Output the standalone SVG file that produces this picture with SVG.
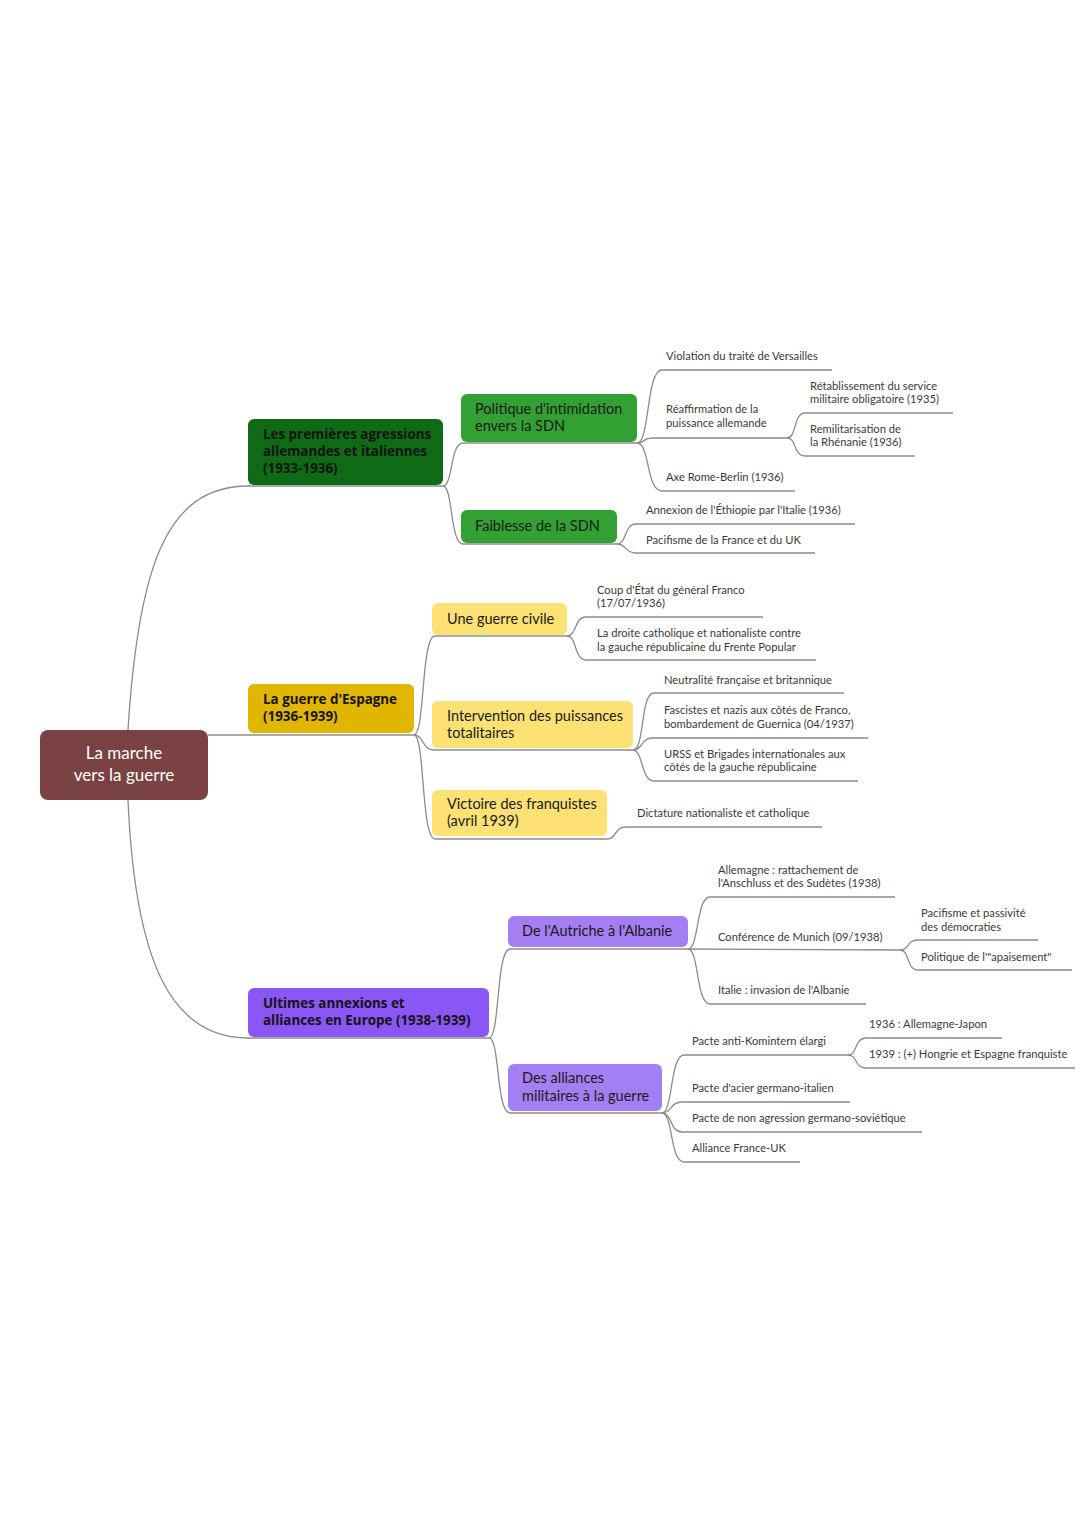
<svg xmlns="http://www.w3.org/2000/svg" width="1080" height="1528" viewBox="0 0 1080 1528">
<style>
.c{fill:none;stroke:#8c8c8c;stroke-width:1.3}
.t{font-family:Lato,"Open Sans","Liberation Sans",sans-serif;font-size:11.2px;fill:#3a3a3a}
.n2{font-family:Lato,"Open Sans","Liberation Sans",sans-serif;font-size:14.5px;fill:#1a1a1a}
.n1{font-family:"Open Sans",Lato,"Liberation Sans",sans-serif;font-size:13.4px;font-weight:700;fill:#141414}
.root{font-family:Lato,"Open Sans","Liberation Sans",sans-serif;font-size:17px;fill:#ffffff;text-anchor:middle}
</style>
<rect width="1080" height="1528" fill="#ffffff"/>
<g id="connectors">
<path class="c" d="M128,730 C138,570 165,486 248,486 L443,486"/>
<path class="c" d="M208,735 L248,735 L414,735"/>
<path class="c" d="M128,800 C135,960 170,1038 248,1038 L489,1038"/>
<path class="c" d="M443,486 C453,486 450,443 463,443 L637,443"/>
<path class="c" d="M443,486 C453,486 450,544 463,544 L617,544"/>
<path class="c" d="M637,443 C650,443 646,370 662,370 L832,370"/>
<path class="c" d="M637,443 C645,443 643,438 652,438 L787,438"/>
<path class="c" d="M637,443 C650,443 646,491 662,491 L795,491"/>
<path class="c" d="M787,438 C797,438 793,413 805,413 L953,413"/>
<path class="c" d="M787,438 C797,438 793,456 805,456 L915,456"/>
<path class="c" d="M617,544 C627,544 624,524 636,524 L855,524"/>
<path class="c" d="M617,544 C627,544 624,553 636,553 L815,553"/>
<path class="c" d="M414,735 C425,735 421,636 435,636 L567,636"/>
<path class="c" d="M414,735 C424,735 422,750 434,750 L633,750"/>
<path class="c" d="M414,735 C425,735 421,839 435,839 L607,839"/>
<path class="c" d="M567,636 C577,636 574,617 586,617 L763,617"/>
<path class="c" d="M567,636 C577,636 574,660 586,660 L816,660"/>
<path class="c" d="M633,750 C645,750 640,693 654,693 L844,693"/>
<path class="c" d="M633,750 C643,750 641,738 652,738 L868,738"/>
<path class="c" d="M633,750 C643,750 641,781 654,781 L858,781"/>
<path class="c" d="M607,839 C617,839 614,827 626,827 L822,827"/>
<path class="c" d="M489,1038 C500,1038 496,949 510,949 L688,949"/>
<path class="c" d="M489,1038 C500,1038 496,1113 510,1113 L662,1113"/>
<path class="c" d="M688,949 C699,949 696,897 710,897 L895,897"/>
<path class="c" d="M688,949 L900,950"/>
<path class="c" d="M688,949 C699,949 696,1004 710,1004 L866,1004"/>
<path class="c" d="M900,950 C910,950 906,940 918,940 L1038,940"/>
<path class="c" d="M900,950 C910,950 906,970 918,970 L1072,970"/>
<path class="c" d="M662,1113 C673,1113 670,1055 684,1055 L848,1055"/>
<path class="c" d="M662,1113 C672,1113 670,1102 682,1102 L850,1102"/>
<path class="c" d="M662,1113 C672,1113 670,1132 682,1132 L922,1132"/>
<path class="c" d="M662,1113 C673,1113 670,1162 684,1162 L800,1162"/>
<path class="c" d="M848,1055 C858,1055 854,1038 866,1038 L1002,1038"/>
<path class="c" d="M848,1055 C858,1055 854,1068 866,1068 L1075,1068"/>
</g>
<g id="root">
<rect x="40" y="730" width="168" height="70" rx="8" fill="#7a4242"/>
<text class="root" x="124" y="759">La marche</text>
<text class="root" x="124" y="781">vers la guerre</text>
</g>
<g id="n-agressions">
<rect x="248" y="419" width="195" height="66" rx="6" fill="#0e6a15"/>
<text class="n1" x="263" y="439">Les premières agressions</text>
<text class="n1" x="263" y="456">allemandes et italiennes</text>
<text class="n1" x="263" y="473">(1933-1936)</text>
</g>
<g id="n-espagne">
<rect x="248" y="684" width="166" height="49" rx="6" fill="#e0b600"/>
<text class="n1" x="263" y="704">La guerre d'Espagne</text>
<text class="n1" x="263" y="721">(1936-1939)</text>
</g>
<g id="n-ultimes">
<rect x="248" y="988" width="241" height="49" rx="6" fill="#8b56f6"/>
<text class="n1" x="263" y="1008">Ultimes annexions et</text>
<text class="n1" x="263" y="1025">alliances en Europe (1938-1939)</text>
</g>
<g id="n-politique">
<rect x="461" y="394" width="176" height="48" rx="6" fill="#32a032"/>
<text class="n2" x="475" y="414">Politique d'intimidation</text>
<text class="n2" x="475" y="431">envers la SDN</text>
</g>
<g id="n-faiblesse">
<rect x="461" y="510" width="156" height="33" rx="6" fill="#32a032"/>
<text class="n2" x="475" y="531">Faiblesse de la SDN</text>
</g>
<g id="n-violation"><text class="t" x="666" y="360">Violation du traité de Versailles</text></g>
<g id="n-reaffirmation"><text class="t" x="666" y="413">Réaffirmation de la</text><text class="t" x="666" y="427">puissance allemande</text></g>
<g id="n-retablissement"><text class="t" x="810" y="390">Rétablissement du service</text><text class="t" x="810" y="403">militaire obligatoire (1935)</text></g>
<g id="n-remilitarisation"><text class="t" x="810" y="433">Remilitarisation de</text><text class="t" x="810" y="446">la Rhénanie (1936)</text></g>
<g id="n-axe"><text class="t" x="666" y="481">Axe Rome-Berlin (1936)</text></g>
<g id="n-ethiopie"><text class="t" x="646" y="514">Annexion de l'Éthiopie par l'Italie (1936)</text></g>
<g id="n-pacifisme"><text class="t" x="646" y="544">Pacifisme de la France et du UK</text></g>
<g id="n-civile">
<rect x="432" y="603" width="135" height="32" rx="6" fill="#fce174"/>
<text class="n2" x="447" y="624">Une guerre civile</text>
</g>
<g id="n-intervention">
<rect x="432" y="701" width="201" height="47" rx="6" fill="#fce174"/>
<text class="n2" x="447" y="721">Intervention des puissances</text>
<text class="n2" x="447" y="738">totalitaires</text>
</g>
<g id="n-victoire">
<rect x="432" y="790" width="175" height="46" rx="6" fill="#fce174"/>
<text class="n2" x="447" y="809">Victoire des franquistes</text>
<text class="n2" x="447" y="826">(avril 1939)</text>
</g>
<g id="n-coup"><text class="t" x="597" y="594">Coup d'État du général Franco</text><text class="t" x="597" y="607">(17/07/1936)</text></g>
<g id="n-droite"><text class="t" x="597" y="637">La droite catholique et nationaliste contre</text><text class="t" x="597" y="651">la gauche républicaine du Frente Popular</text></g>
<g id="n-neutralite"><text class="t" x="664" y="684">Neutralité française et britannique</text></g>
<g id="n-fascistes"><text class="t" x="664" y="714">Fascistes et nazis aux côtés de Franco,</text><text class="t" x="664" y="728">bombardement de Guernica (04/1937)</text></g>
<g id="n-urss"><text class="t" x="664" y="758">URSS et Brigades internationales aux</text><text class="t" x="664" y="771">côtés de la gauche républicaine</text></g>
<g id="n-dictature"><text class="t" x="637" y="817">Dictature nationaliste et catholique</text></g>
<g id="n-autriche">
<rect x="508" y="916" width="180" height="31" rx="6" fill="#a47ff3"/>
<text class="n2" x="522" y="936">De l'Autriche à l'Albanie</text>
</g>
<g id="n-alliances">
<rect x="508" y="1064" width="154" height="47" rx="6" fill="#a47ff3"/>
<text class="n2" x="522" y="1083">Des alliances</text>
<text class="n2" x="522" y="1101">militaires à la guerre</text>
</g>
<g id="n-allemagne"><text class="t" x="718" y="874">Allemagne : rattachement de</text><text class="t" x="718" y="887">l'Anschluss et des Sudètes (1938)</text></g>
<g id="n-munich"><text class="t" x="718" y="941">Conférence de Munich (09/1938)</text></g>
<g id="n-passivite"><text class="t" x="921" y="917">Pacifisme et passivité</text><text class="t" x="921" y="931">des démocraties</text></g>
<g id="n-apaisement"><text class="t" x="921" y="961">Politique de l'"apaisement"</text></g>
<g id="n-italie"><text class="t" x="718" y="994">Italie : invasion de l'Albanie</text></g>
<g id="n-komintern"><text class="t" x="692" y="1045">Pacte anti-Komintern élargi</text></g>
<g id="n-1936"><text class="t" x="869" y="1028">1936 : Allemagne-Japon</text></g>
<g id="n-1939"><text class="t" x="869" y="1058">1939 : (+) Hongrie et Espagne franquiste</text></g>
<g id="n-acier"><text class="t" x="692" y="1092">Pacte d'acier germano-italien</text></g>
<g id="n-nonagression"><text class="t" x="692" y="1122">Pacte de non agression germano-soviétique</text></g>
<g id="n-franceuk"><text class="t" x="692" y="1152">Alliance France-UK</text></g>
</svg>
